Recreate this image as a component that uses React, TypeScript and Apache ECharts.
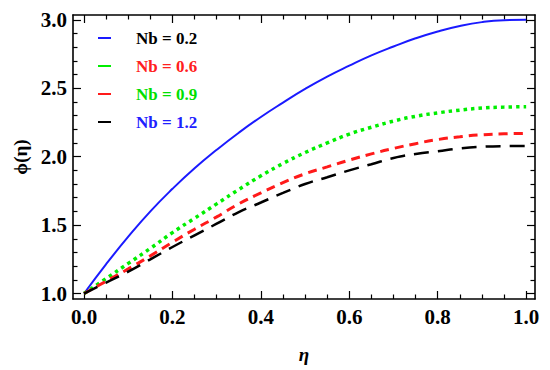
import React, { useEffect, useRef } from "react";
import * as echarts from "echarts";

const eta = [0, 0.05, 0.1, 0.15, 0.2, 0.25, 0.3, 0.35, 0.4, 0.45, 0.5, 0.55, 0.6, 0.65, 0.7, 0.75, 0.8, 0.85, 0.9, 0.95, 1.0];
const nb02 = [1.0, 1.215, 1.415, 1.6, 1.765, 1.915, 2.05, 2.175, 2.29, 2.395, 2.495, 2.585, 2.665, 2.74, 2.805, 2.865, 2.915, 2.955, 2.983, 2.997, 3.0];
const nb06 = [1.0, 1.11, 1.22, 1.33, 1.445, 1.55, 1.655, 1.76, 1.86, 1.95, 2.03, 2.1, 2.165, 2.215, 2.26, 2.295, 2.32, 2.34, 2.355, 2.362, 2.365];
const nb09 = [1.0, 1.09, 1.18, 1.275, 1.375, 1.47, 1.56, 1.655, 1.735, 1.81, 1.875, 1.925, 1.975, 2.02, 2.06, 2.095, 2.125, 2.145, 2.16, 2.167, 2.17];
const nb12 = [1.0, 1.08, 1.16, 1.25, 1.34, 1.425, 1.51, 1.595, 1.665, 1.735, 1.8, 1.85, 1.9, 1.945, 1.99, 2.02, 2.04, 2.06, 2.072, 2.077, 2.078];

const seriesNames = ["Nb = 0.2", "Nb = 0.6", "Nb = 0.9", "Nb = 1.2"];
const legendTextColors = ["#000000", "#ff2020", "#00e000", "#2020ff"];
const legendIconColors = ["#1a1aff", "#00ee00", "#ff1a1a", "#000000"];

const xMajor = [0, 0.2, 0.4, 0.6, 0.8, 1.0];
const xMinor = [0.05, 0.1, 0.15, 0.25, 0.3, 0.35, 0.45, 0.5, 0.55, 0.65, 0.7, 0.75, 0.85, 0.9, 0.95];
const yMajor = [1.0, 1.5, 2.0, 2.5, 3.0];
const yMinor = [1.1, 1.2, 1.3, 1.4, 1.6, 1.7, 1.8, 1.9, 2.1, 2.2, 2.3, 2.4, 2.6, 2.7, 2.8, 2.9];

const FONT = "Liberation Serif";
const BLACK = "#000000";

export default function App() {
  const ref = useRef<HTMLDivElement>(null);
  useEffect(() => {
    document.body.style.margin = "0";
    const chart = echarts.init(ref.current!, null, { renderer: "svg" });
    const xMin = -0.025, xMax = 1.02, yMin = 0.96, yMax = 3.035;
    const lineC = { color: BLACK, width: 1.6, type: "solid" as const };
    const tickC = { color: BLACK, width: 1.2, type: "solid" as const };
    const labelStyle = { fontFamily: FONT, fontWeight: "bold" as const, fontSize: 21, color: BLACK };
    const colors = ["#1a1aff", "#00ee00", "#ff1a1a", BLACK];
    const data = [nb02, nb06, nb09, nb12];
    const lineStyles: any[] = [
      { width: 2, type: "solid" },
      { width: 3.5, type: [3.5, 4] },
      { width: 3, type: [9, 6] },
      { width: 2.5, type: [15, 9] },
    ];
    const mkX = (position: string, major: boolean, labels: boolean, extra: any = {}) => ({
      type: "value", position, min: xMin, max: xMax,
      axisLine: { show: major, onZero: false, lineStyle: lineC },
      axisTick: { show: true, inside: true, length: major ? 8 : 4.5, customValues: major ? xMajor : xMinor, lineStyle: tickC },
      axisLabel: labels
        ? { show: true, customValues: xMajor, formatter: (v: number) => v.toFixed(1), margin: 7, ...labelStyle }
        : { show: false },
      splitLine: { show: false },
      ...extra,
    });
    const mkY = (position: string, major: boolean, labels: boolean, extra: any = {}) => ({
      type: "value", position, min: yMin, max: yMax,
      axisLine: { show: major, onZero: false, lineStyle: lineC },
      axisTick: { show: true, inside: true, length: major ? 8 : 4.5, customValues: major ? yMajor : yMinor, lineStyle: tickC },
      axisLabel: labels
        ? { show: true, customValues: yMajor, formatter: (v: number) => v.toFixed(1), margin: 6, ...labelStyle }
        : { show: false },
      splitLine: { show: false },
      ...extra,
    });
    chart.setOption({
      animation: false,
      grid: { left: 73, right: 15, top: 15, bottom: 71, containLabel: false, show: false },
      legend: {
        orient: "vertical", left: 93, top: 23, itemWidth: 13, itemHeight: 2, itemGap: 8,
        icon: "rect",
        data: seriesNames.map((n, i) => ({
          name: n, icon: "rect", itemStyle: { color: legendIconColors[i] }, textStyle: { color: legendTextColors[i] },
        })),
        textStyle: { fontFamily: FONT, fontWeight: "bold", fontSize: 17, lineHeight: 20, padding: [0, 0, 0, 20] },
      },
      xAxis: [
        mkX("bottom", true, true, {
          name: "η", nameLocation: "middle", nameGap: 46,
          nameTextStyle: { fontFamily: FONT, fontStyle: "italic", fontWeight: "bold", fontSize: 19, color: BLACK },
        }),
        mkX("bottom", false, false),
        mkX("top", true, false),
        mkX("top", false, false),
      ],
      yAxis: [
        mkY("left", true, true, {
          name: "ϕ(η)", nameLocation: "middle", nameGap: 38, nameRotate: 90,
          nameTextStyle: { fontFamily: FONT, fontWeight: "bold", fontSize: 19, color: BLACK },
        }),
        mkY("left", false, false),
        mkY("right", true, false),
        mkY("right", false, false),
      ],
      series: data.map((d, i) => ({
        name: seriesNames[i], type: "line", xAxisIndex: 0, yAxisIndex: 0,
        data: eta.map((e, k) => [e, d[k]]), symbol: "none", smooth: 0.5,
        color: colors[i], z: 3,
        lineStyle: { color: colors[i], ...lineStyles[i] },
      })),
    });
    return () => chart.dispose();
  }, []);
  return <div ref={ref} style={{ width: 550, height: 370 }} />;
}
